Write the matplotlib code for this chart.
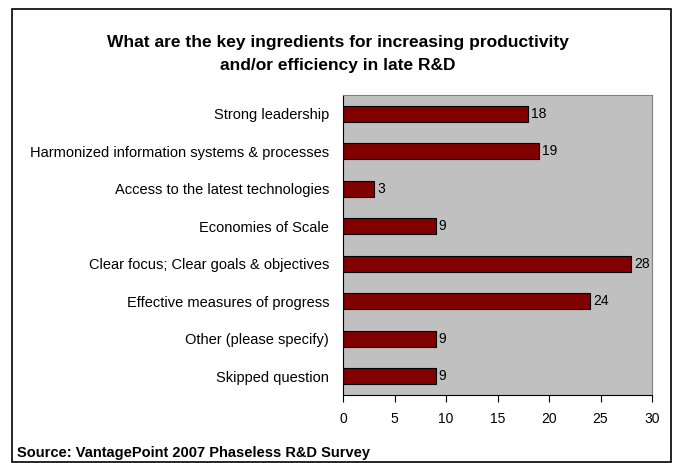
import matplotlib
matplotlib.use("Agg")
import matplotlib.pyplot as plt
from matplotlib.patches import Rectangle

# Survey responses, top to bottom as shown
categories = [
    "Strong leadership",
    "Harmonized information systems & processes",
    "Access to the latest technologies",
    "Economies of Scale",
    "Clear focus; Clear goals & objectives",
    "Effective measures of progress",
    "Other (please specify)",
    "Skipped question",
]
counts = [18, 19, 3, 9, 28, 24, 9, 9]
x_ticks = [0, 5, 10, 15, 20, 25, 30]

plt.rcParams["font.family"] = ["Liberation Sans", "DejaVu Sans"]

fig = plt.figure(figsize=(6.76, 4.63), dpi=100)
ax = fig.add_axes([0.5074, 0.1469, 0.4571, 0.6479])
ax.set_facecolor("#C0C0C0")

pos = list(range(len(categories)))
ax.barh(pos, counts, height=0.42, color="#800000", edgecolor="black", linewidth=0.8)
for p, v in zip(pos, counts):
    ax.text(v + 0.3, p, str(v), va="center", ha="left", fontsize=10)

ax.set_yticks(pos)
ax.set_yticklabels(categories, fontsize=10.5)
ax.set_ylim(len(categories) - 0.5, -0.5)
ax.set_xlim(0, 30)
ax.set_xticks(x_ticks)
ax.set_xticklabels([str(t) for t in x_ticks], fontsize=10)
ax.tick_params(axis="y", length=0, pad=10)
ax.tick_params(axis="x", length=5, width=0.8, pad=7)

for side in ["top", "right"]:
    ax.spines[side].set_color("#808080")
ax.spines["left"].set_color("black")
ax.spines["bottom"].set_color("black")

fig.text(0.5, 0.883, "What are the key ingredients for increasing productivity\nand/or efficiency in late R&D",
         ha="center", va="center", fontsize=12.5, fontweight="bold", linespacing=1.65)
fig.text(0.025, 0.022, "Source: VantagePoint 2007 Phaseless R&D Survey",
         ha="left", va="center", fontsize=10.5, fontweight="bold")

# outer frame
fig.patches.append(Rectangle((0.018, 0.003), 0.975, 0.977, transform=fig.transFigure,
                             fill=False, edgecolor="black", linewidth=1.2))

fig.savefig("out.png", dpi=100)
